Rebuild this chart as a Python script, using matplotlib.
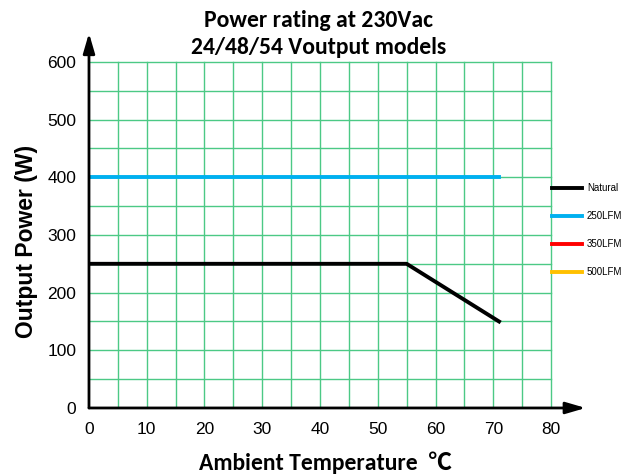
import matplotlib
matplotlib.use('Agg')
import matplotlib.pyplot as plt
import numpy as np

plt.rcParams['font.family'] = ['Liberation Sans', 'DejaVu Sans']

# Derating curves (ambient temperature in C, output power in W)
natural_t = [0, 55, 71]
natural_p = [250, 250, 150]
lfm250_t = [0, 71]
lfm250_p = [400, 400]
lfm350_t = []
lfm350_p = []
lfm500_t = []
lfm500_p = []

x_ticks = [0, 10, 20, 30, 40, 50, 60, 70, 80]
y_ticks = [0, 100, 200, 300, 400, 500, 600]

calibri = ['Carlito', 'Noto Sans CJK SC', 'DejaVu Sans']

fig = plt.figure(figsize=(6.37, 4.76), dpi=100)
ax = fig.add_axes([0.1397, 0.1429, 0.7797, 0.7875])
ax.set_xlim(0, 86)
ax.set_ylim(0, 650)

# grid: every 5 C and every 50 W, only inside 0..80 / 0..600
grid_c = '#4cc985'
for gx in np.arange(5, 81, 5):
    ax.plot([gx, gx], [0, 600], color=grid_c, lw=1, zorder=1)
for gy in np.arange(50, 601, 50):
    ax.plot([0, 80], [gy, gy], color=grid_c, lw=1, zorder=1)

ax.plot(natural_t, natural_p, color='black', lw=2.8, label='Natural', zorder=3)
ax.plot(lfm250_t, lfm250_p, color='#00b0f0', lw=2.8, label='250LFM', zorder=3)
ax.plot(lfm350_t, lfm350_p, color='#ff0000', lw=2.8, label='350LFM')
ax.plot(lfm500_t, lfm500_p, color='#ffc000', lw=2.8, label='500LFM')

# axes with arrow heads
for s in ax.spines.values():
    s.set_visible(False)
ax.annotate('', xy=(86, 0), xytext=(0, 0), annotation_clip=False,
            arrowprops=dict(arrowstyle='-|>,head_length=1.2,head_width=0.35', color='black', lw=2, shrinkA=0, shrinkB=0))
ax.annotate('', xy=(0, 650), xytext=(0, 0), annotation_clip=False,
            arrowprops=dict(arrowstyle='-|>,head_length=1.2,head_width=0.35', color='black', lw=2, shrinkA=0, shrinkB=0))

ax.set_xticks(x_ticks)
ax.set_yticks(y_ticks)
ax.tick_params(axis='x', length=0, labelsize=12.5, pad=10)
ax.tick_params(axis='y', length=0, labelsize=12.5, pad=9)

ax.set_xlabel('Ambient Temperature  ℃', fontsize=17, fontweight='bold', family=calibri)
ax.xaxis.set_label_coords(0.477, -0.115)
ax.set_ylabel('Output Power (W)', fontsize=16.5, fontweight='bold')
ax.yaxis.set_label_coords(-0.103, 0.445)
fig.text(0.5, 0.957, 'Power rating at 230Vac', ha='center', va='center',
         fontsize=17, fontweight='bold', family=calibri)
fig.text(0.5, 0.900, '24/48/54 Voutput models', ha='center', va='center',
         fontsize=17, fontweight='bold', family=calibri)

ax.legend(loc='upper left', bbox_to_anchor=(0.932, 0.60), frameon=False,
          fontsize=7, handlelength=3.1, handletextpad=0.5, labelspacing=1.85,
          borderaxespad=0, borderpad=0)

plt.savefig('out.png', dpi=100)
